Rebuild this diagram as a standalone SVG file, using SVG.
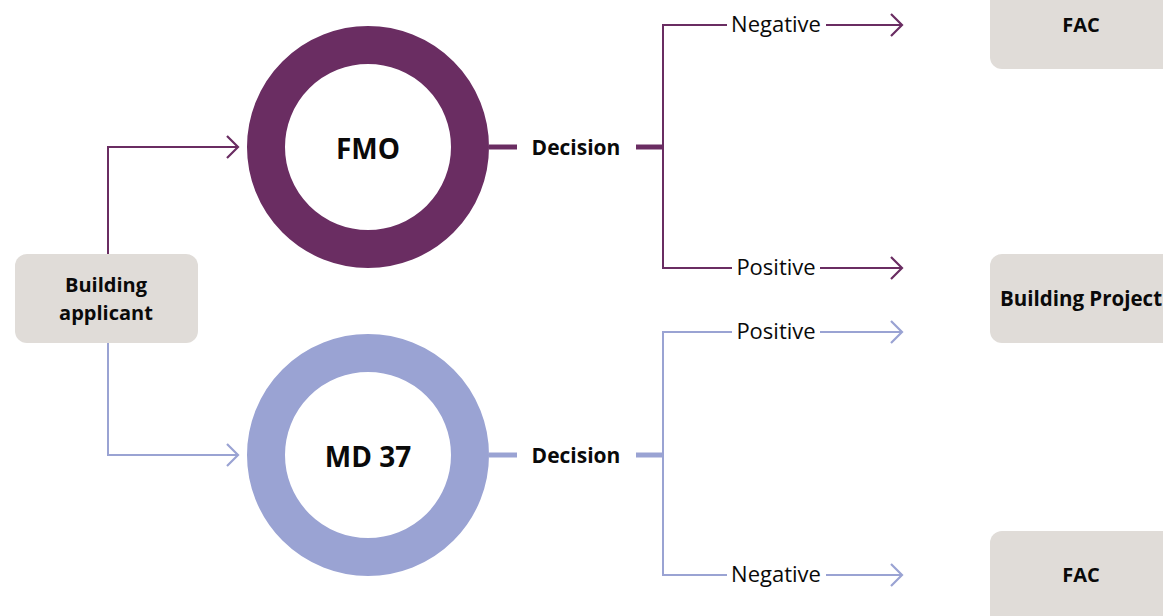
<svg xmlns="http://www.w3.org/2000/svg" width="1163" height="616" viewBox="0 0 1163 616">
  <defs>
    <style>
      .box { fill: #e0dcd8; }
      .lbl { font-family: "Open Sans", "Noto Sans", sans-serif; fill: #0a0a0a; }
      .b { font-weight: 700; }
      .purple { stroke: #6a2d62; fill: none; }
      .lav { stroke: #9aa3d3; fill: none; }
      .thin { stroke-width: 2; }
      .thick { stroke-width: 5; }
    </style>
    <marker id="arrP" viewBox="0 0 14 24" markerWidth="14" markerHeight="24" refX="12" refY="12" markerUnits="userSpaceOnUse" orient="auto">
      <path d="M1 1 L12 12 L1 23" fill="none" stroke="#6a2d62" stroke-width="2.2"/>
    </marker>
    <marker id="arrL" viewBox="0 0 14 24" markerWidth="14" markerHeight="24" refX="12" refY="12" markerUnits="userSpaceOnUse" orient="auto">
      <path d="M1 1 L12 12 L1 23" fill="none" stroke="#9aa3d3" stroke-width="2.2"/>
    </marker>
  </defs>
  <rect width="1163" height="616" fill="#ffffff"/>

  <!-- connectors -->
  <g id="connectors">
    <path class="purple thin" d="M108 254 V147 H238" marker-end="url(#arrP)"/>
    <path class="lav thin" d="M108 343 V455 H238" marker-end="url(#arrL)"/>

    <path class="purple thick" d="M489 147 H517"/>
    <path class="purple thick" d="M636 147 H663"/>
    <path class="purple thin" d="M727 25 H663 V268 H732"/>
    <path class="purple thin" d="M826 25 H902" marker-end="url(#arrP)"/>
    <path class="purple thin" d="M820 268 H902" marker-end="url(#arrP)"/>

    <path class="lav thick" d="M489 455 H517"/>
    <path class="lav thick" d="M636 455 H663"/>
    <path class="lav thin" d="M732 332 H663 V575 H727"/>
    <path class="lav thin" d="M820 332 H902" marker-end="url(#arrL)"/>
    <path class="lav thin" d="M826 575 H902" marker-end="url(#arrL)"/>

    <text class="lbl b" x="576" y="155" font-size="21" text-anchor="middle">Decision</text>
    <text class="lbl b" x="576" y="463" font-size="21" text-anchor="middle">Decision</text>
    <text class="lbl" x="776" y="32" font-size="22" text-anchor="middle">Negative</text>
    <text class="lbl" x="776" y="275" font-size="22" text-anchor="middle">Positive</text>
    <text class="lbl" x="776" y="339" font-size="22" text-anchor="middle">Positive</text>
    <text class="lbl" x="776" y="582" font-size="22" text-anchor="middle">Negative</text>
  </g>

  <!-- applicant -->
  <g id="applicant">
    <rect class="box" x="15" y="254" width="183" height="89" rx="12"/>
    <text class="lbl b" x="106" y="292" font-size="20" text-anchor="middle">Building</text>
    <text class="lbl b" x="106" y="320" font-size="20" text-anchor="middle">applicant</text>
  </g>

  <!-- FMO ring -->
  <g id="fmo">
    <circle cx="368" cy="147" r="102" fill="none" stroke="#6a2d62" stroke-width="38"/>
    <text class="lbl b" x="368" y="159" font-size="28" text-anchor="middle">FMO</text>
  </g>

  <!-- MD 37 ring -->
  <g id="md37">
    <circle cx="368" cy="455" r="102" fill="none" stroke="#9aa3d3" stroke-width="38"/>
    <text class="lbl b" x="368" y="467" font-size="28" text-anchor="middle">MD 37</text>
  </g>

  <!-- outcome boxes -->
  <g id="fac-top">
    <rect class="box" x="990" y="-30" width="200" height="99" rx="12"/>
    <text class="lbl b" x="1081" y="32" font-size="20" text-anchor="middle">FAC</text>
  </g>
  <g id="building-project">
    <rect class="box" x="990" y="254" width="200" height="89" rx="12"/>
    <text class="lbl b" x="1000" y="306" font-size="20.5">Building Project</text>
  </g>
  <g id="fac-bottom">
    <rect class="box" x="990" y="531" width="200" height="110" rx="12"/>
    <text class="lbl b" x="1081" y="582" font-size="20" text-anchor="middle">FAC</text>
  </g>
</svg>
